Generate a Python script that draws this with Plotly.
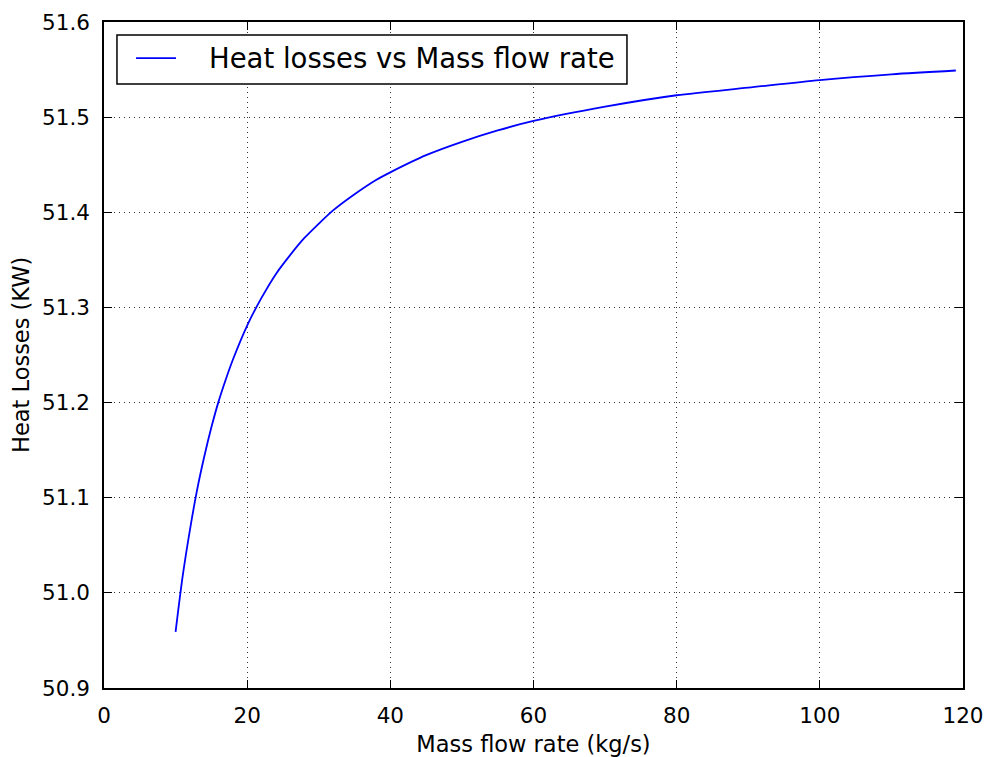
import plotly.graph_objects as go

# Mass flow rate (kg/s) and the resulting heat losses (kW)
mass_flow = [10, 11, 12, 13, 14, 15, 16, 17, 18, 20, 22, 24, 26, 28, 30,
             32, 35, 38, 40, 45, 50, 55, 60, 70, 80, 90, 100, 110, 119]
heat_losses = [50.959, 51.018, 51.066, 51.108, 51.143, 51.174, 51.201,
               51.224, 51.245, 51.281, 51.310, 51.335, 51.355, 51.373,
               51.388, 51.402, 51.419, 51.434, 51.442, 51.460, 51.474,
               51.486, 51.496, 51.511, 51.523, 51.531, 51.539, 51.545,
               51.549]

x_ticks = [0, 20, 40, 60, 80, 100, 120]
y_ticks = [50.9, 51.0, 51.1, 51.2, 51.3, 51.4, 51.5, 51.6]
series_name = "Heat losses vs Mass flow rate"
x_title = "Mass flow rate (kg/s)"
y_title = "Heat Losses (KW)"

FONT = "DejaVu Sans"
LINE_BLUE = "#0000ff"

fig = go.Figure()
fig.add_trace(go.Scatter(
    x=mass_flow, y=heat_losses, mode="lines",
    line=dict(color=LINE_BLUE, width=1.8, shape="spline", smoothing=0.8),
    name=series_name, showlegend=False,
))

axis_common = dict(
    showline=True, linecolor="black", linewidth=1.5, mirror="ticks",
    ticks="inside", ticklen=8, tickwidth=1, tickcolor="black",
    showgrid=True, gridcolor="#333333", griddash="1px,4px", gridwidth=1,
    zeroline=False, automargin=False,
    tickfont=dict(family=FONT, size=21.5, color="black"),
    title_font=dict(family=FONT, size=22.5, color="black"),
)

fig.update_xaxes(
    range=[0, 120], tickvals=x_ticks,
    title_text=x_title,
    ticklabelstandoff=7,
    **axis_common,
)
fig.update_yaxes(
    range=[50.9, 51.6], tickvals=y_ticks, tickformat=".1f",
    ticklabelstandoff=8,
    **axis_common,
)

# Vertical axis title placed by hand to sit close to the tick labels
fig.add_annotation(xref="paper", yref="paper", x=-0.0966, y=0.5,
                   xanchor="center", yanchor="middle", showarrow=False,
                   textangle=-90, text=y_title,
                   font=dict(family=FONT, size=22.5, color="black"))

# Legend box drawn in paper coordinates (upper-left corner of the axes)
fig.add_shape(type="rect", xref="paper", yref="paper",
              x0=0.0151, x1=0.6088, y0=0.9069, y1=0.9805,
              line=dict(color="black", width=1.5), fillcolor="white",
              layer="above")
fig.add_shape(type="line", xref="paper", yref="paper",
              x0=0.0373, x1=0.0838, y0=0.9459, y1=0.9459,
              line=dict(color=LINE_BLUE, width=1.8), layer="above")
fig.add_annotation(xref="paper", yref="paper", x=0.1199, y=0.9459,
                   xanchor="left", yanchor="middle", showarrow=False,
                   text=series_name,
                   font=dict(family=FONT, size=27.5, color="black"))

fig.update_layout(
    width=996, height=757,
    margin=dict(l=104, r=33, t=22, b=69),
    paper_bgcolor="white", plot_bgcolor="white",
    font=dict(family=FONT, color="black"),
)

fig.write_html("out.html")
